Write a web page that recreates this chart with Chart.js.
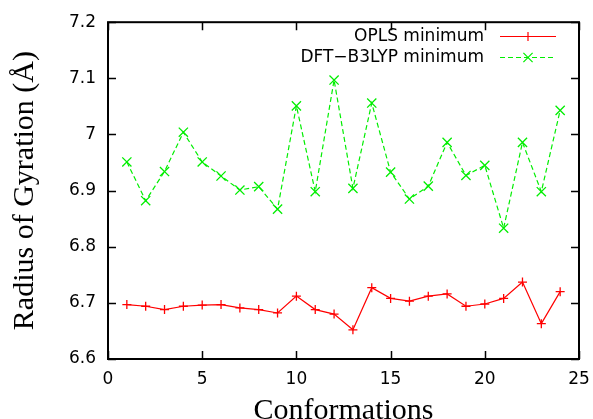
<!DOCTYPE html>
<html>
<head>
<meta charset="utf-8">
<script src="https://cdn.jsdelivr.net/npm/chart.js@4.4.1/dist/chart.umd.min.js"></script>
<style>
  html, body { margin: 0; padding: 0; background: #fff; }
  #wrap { width: 593px; height: 419px; position: relative; }
</style>
</head>
<body>
<div id="wrap"><canvas id="rgChart"></canvas></div>
<script>
// conformation index 1..24
const conformations = [1, 2, 3, 4, 5, 6, 7, 8, 9, 10, 11, 12, 13, 14, 15, 16, 17, 18, 19, 20, 21, 22, 23, 24];
// radius of gyration (Angstrom)
const oplsMin = [6.697, 6.694, 6.688, 6.694, 6.696, 6.697, 6.691, 6.688, 6.682, 6.712, 6.688, 6.680,
                 6.652, 6.727, 6.708, 6.703, 6.712, 6.716, 6.694, 6.698, 6.708, 6.737, 6.663, 6.720];
const dftMin = [6.951, 6.882, 6.934, 7.004, 6.951, 6.926, 6.901, 6.907, 6.867, 7.051, 6.898, 7.097,
                6.904, 7.056, 6.933, 6.885, 6.908, 6.986, 6.927, 6.945, 6.833, 6.986, 6.898, 7.043];
const seriesNames = ['OPLS minimum', 'DFT\u2212B3LYP minimum'];
const xTicks = [0, 5, 10, 15, 20, 25];
const yTicks = [6.6, 6.7, 6.8, 6.9, 7.0, 7.1, 7.2];

const sans = 'DejaVu Sans, Arial, sans-serif';
const serif = 'Liberation Serif, Times New Roman, serif';

const toPoints = (ys) => conformations.map((x, i) => ({ x: x, y: ys[i] }));

// gnuplot style frame with inward ticks on all four sides
const framePlugin = {
  id: 'frame',
  afterDraw(chart) {
    const { ctx, chartArea: a, scales } = chart;
    const len = 8;
    ctx.save();
    ctx.strokeStyle = '#000';
    ctx.lineWidth = 1.5;
    ctx.beginPath();
    xTicks.forEach(v => {
      const px = Math.round(scales.x.getPixelForValue(v)) + 0.5;
      ctx.moveTo(px, a.bottom); ctx.lineTo(px, a.bottom - len);
      ctx.moveTo(px, a.top); ctx.lineTo(px, a.top + len);
    });
    yTicks.forEach(v => {
      const py = Math.round(scales.y.getPixelForValue(v)) + 0.5;
      ctx.moveTo(a.left, py); ctx.lineTo(a.left + len, py);
      ctx.moveTo(a.right, py); ctx.lineTo(a.right - len, py);
    });
    ctx.stroke();
    ctx.lineWidth = 2;
    ctx.strokeRect(a.left, a.top, a.right - a.left, a.bottom - a.top);
    ctx.restore();
  }
};

// legend: text on the left, line sample on the right
const keyPlugin = {
  id: 'key',
  afterDraw(chart) {
    const { ctx } = chart;
    const textRight = 484, x0 = 500, x1 = 556, rows = [36.5, 57.5];
    ctx.save();
    ctx.font = '17px ' + sans;
    ctx.textAlign = 'right';
    ctx.textBaseline = 'middle';
    chart.data.datasets.forEach((ds, i) => {
      const y = rows[i];
      ctx.fillStyle = '#000';
      ctx.fillText(ds.label, textRight, y);
      ctx.strokeStyle = ds.borderColor;
      ctx.lineWidth = ds.borderWidth;
      ctx.setLineDash(ds.borderDash || []);
      ctx.beginPath();
      ctx.moveTo(x0, y); ctx.lineTo(x1, y);
      ctx.stroke();
      ctx.setLineDash([]);
      Chart.helpers.drawPoint(ctx, {
        pointStyle: ds.pointStyle, radius: ds.pointRadius, borderWidth: ds.pointBorderWidth
      }, (x0 + x1) / 2, y);
    });
    ctx.restore();
  }
};

const ctx = document.getElementById('rgChart').getContext('2d');
const rgChart = new Chart(ctx, {
  type: 'line',
  data: {
    datasets: [{
      label: seriesNames[0],
      data: toPoints(oplsMin),
      borderColor: '#ff0000',
      backgroundColor: '#ff0000',
      borderWidth: 1.2,
      pointStyle: 'cross',
      pointRadius: 4.5,
      pointBorderWidth: 1.3,
      pointBorderColor: '#ff0000',
      fill: false,
      tension: 0
    }, {
      label: seriesNames[1],
      data: toPoints(dftMin),
      borderColor: '#00ee00',
      backgroundColor: '#00ee00',
      borderWidth: 1.2,
      borderDash: [5, 3],
      pointStyle: 'crossRot',
      pointRadius: 6.5,
      pointBorderWidth: 1.3,
      pointBorderColor: '#00ee00',
      fill: false,
      tension: 0
    }]
  },
  options: {
    responsive: true,
    maintainAspectRatio: false,
    animation: false,
    layout: { padding: { left: 0, right: 14, top: 17, bottom: 0 } },
    scales: {
      x: {
        type: 'linear',
        min: 0,
        max: 25,
        afterBuildTicks: (axis) => { axis.ticks = xTicks.map(v => ({ value: v })); },
        afterFit: (scale) => {
          scale.height = 60;
          scale.paddingLeft = 0;
          scale.paddingRight = 0;
        },
        grid: { display: false, drawTicks: false },
        border: { display: false },
        ticks: {
          color: '#000',
          font: { family: sans, size: 17 },
          padding: 10,
          maxRotation: 0,
          callback: (v) => String(v)
        },
        title: {
          display: true,
          text: 'Conformations',
          color: '#000',
          font: { family: serif, size: 30, lineHeight: 1 },
          padding: { top: 0, bottom: -7 }
        }
      },
      y: {
        min: 6.6,
        max: 7.2,
        afterBuildTicks: (axis) => { axis.ticks = yTicks.map(v => ({ value: v })); },
        afterFit: (scale) => { scale.width = 108; },
        grid: { display: false, drawTicks: false },
        border: { display: false },
        ticks: {
          color: '#000',
          font: { family: sans, size: 17 },
          padding: 12,
          callback: (v) => String(Number(v.toFixed(1)))
        },
        title: {
          display: true,
          text: 'Radius of Gyration (\u00c5)',
          color: '#000',
          font: { family: serif, size: 30, lineHeight: 1 },
          padding: { top: 10, bottom: 0 }
        }
      }
    },
    plugins: {
      legend: { display: false },
      tooltip: { enabled: false }
    }
  },
  plugins: [framePlugin, keyPlugin]
});
</script>
</body>
</html>
